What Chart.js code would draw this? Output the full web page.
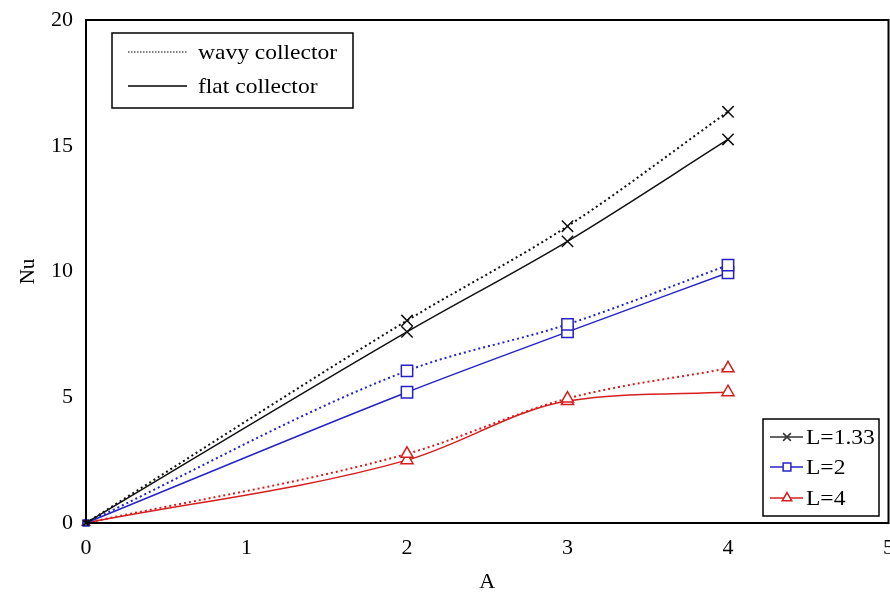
<!DOCTYPE html>
<html>
<head>
<meta charset="utf-8">
<script src="https://cdn.jsdelivr.net/npm/chart.js@4"></script>
<style>
  html, body { margin: 0; padding: 0; background: #fff; overflow: hidden; }
  #wrap { width: 890px; height: 595px; position: relative; overflow: hidden; }
</style>
</head>
<body>
<div id="wrap"><canvas id="myChart" width="898" height="595"></canvas></div>
<script>
// A values along the x axis
const aValues = [0, 2, 3, 4];

// Nu values
const wavyL133 = [0, 8.05, 11.8, 16.35];
const flatL133 = [0, 7.6, 11.2, 15.25];
const wavyL2 = [0, 6.05, 7.9, 10.25];
const flatL2 = [0, 5.2, 7.6, 9.95];
const wavyL4 = [0, 2.75, 4.95, 6.15];
const flatL4 = [0, 2.5, 4.85, 5.2];

const xTicks = [0, 1, 2, 3, 4, 5];
const yTicks = [0, 5, 10, 15, 20];

const black = "#111";
const blue = "rgb(35,35,200)";
const red = "rgb(215,30,30)";
const font = "Liberation Serif";

let toPoints = (vals) => aValues.map((a, i) => ({ x: a, y: vals[i] }));

let sizeFor = (style) => {
    if (style === "crossRot") return 8;
    if (style === "rect") return 8;
    return 7;
};

let makeSet = (label, vals, color, style, dotted) => ({
    label: label,
    data: toPoints(vals),
    borderColor: color,
    backgroundColor: "#fff",
    borderWidth: dotted ? 2 : 1.5,
    borderDash: dotted ? [2, 3] : [],
    pointStyle: style,
    pointRadius: (c) => c.dataIndex === 0 ? 4 : sizeFor(style),
    pointBorderWidth: 1.5,
    pointBorderColor: color,
    pointBackgroundColor: "#fff",
    cubicInterpolationMode: "monotone",
    fill: false
});

// draw text a bit wider, the original figure has stretched lettering
let wideText = (c, text, x, y) => {
    c.save();
    c.translate(x, y);
    c.scale(1.12, 1);
    c.fillText(text, 0, 0);
    c.restore();
};

// two boxed legends like the original figure
const legendBoxes = {
    id: "legendBoxes",
    afterDraw(chart) {
        const c = chart.ctx;
        const h = Chart.helpers;
        c.save();
        c.fillStyle = "#fff";
        c.strokeStyle = "#000";
        c.lineWidth = 1.5;

        // line style legend (top left)
        c.fillRect(112, 33, 241, 75);
        c.strokeRect(112, 33, 241, 75);
        c.font = "21px " + font;
        c.fillStyle = "#000";
        c.textBaseline = "middle";
        c.lineWidth = 1;
        c.setLineDash([1.5, 1.5]);
        c.beginPath(); c.moveTo(128, 52); c.lineTo(187, 52); c.stroke();
        c.setLineDash([]);
        c.lineWidth = 1.5;
        c.beginPath(); c.moveTo(128, 86); c.lineTo(187, 86); c.stroke();
        wideText(c, "wavy collector", 198, 53);
        wideText(c, "flat collector", 198, 87);

        // series legend (bottom right)
        c.fillStyle = "#fff";
        c.strokeStyle = "#000";
        c.fillRect(763, 419, 116, 97);
        c.strokeRect(763, 419, 116, 97);
        const rows = [
            { text: "L=1.33", color: "#333", style: "crossRot", y: 437 },
            { text: "L=2", color: blue, style: "rect", y: 467 },
            { text: "L=4", color: red, style: "triangle", y: 498 }
        ];
        rows.forEach((r) => {
            c.strokeStyle = r.color;
            c.lineWidth = 1.5;
            c.beginPath(); c.moveTo(770, r.y); c.lineTo(803, r.y); c.stroke();
            c.fillStyle = "#fff";
            h.drawPoint(c, { pointStyle: r.style, radius: 5.5, rotation: 0, borderWidth: 1.5 }, 787, r.y);
            c.fillStyle = "#000";
            c.font = "21px " + font;
            wideText(c, r.text, 806, r.y + 1);
        });
        c.restore();
    }
};

// top and right frame lines
const frame = {
    id: "frame",
    afterDatasetsDraw(chart) {
        const a = chart.chartArea;
        const c = chart.ctx;
        c.save();
        c.strokeStyle = "#000";
        c.lineWidth = 2;
        c.strokeRect(a.left, a.top, a.right - a.left, a.bottom - a.top);
        c.restore();
    }
};

const ctx = document.getElementById("myChart");

let chart = new Chart(ctx, {
    type: "line",
    data: {
        datasets: [
            makeSet("L=1.33 wavy", wavyL133, black, "crossRot", true),
            makeSet("L=1.33 flat", flatL133, black, "crossRot", false),
            makeSet("L=2 wavy", wavyL2, blue, "rect", true),
            makeSet("L=2 flat", flatL2, blue, "rect", false),
            makeSet("L=4 wavy", wavyL4, red, "triangle", true),
            makeSet("L=4 flat", flatL4, red, "triangle", false)
        ]
    },
    options: {
        responsive: false,
        animation: false,
        clip: false,
        layout: { padding: { top: 20, right: 0, left: 0, bottom: 0 } },
        plugins: {
            legend: { display: false },
            tooltip: { enabled: false }
        },
        scales: {
            x: {
                type: "linear",
                min: 0,
                max: 5,
                afterBuildTicks: (scale) => { scale.ticks = xTicks.map(v => ({ value: v })); },
                afterFit: (scale) => { scale.height = 72; },
                grid: { display: false, drawTicks: true, tickLength: 9, tickColor: "#000" },
                border: { color: "#000", width: 2 },
                ticks: { color: "#000", font: { family: font, size: 22 }, padding: 3, maxRotation: 0 },
                title: { display: true, text: "A", color: "#000", font: { family: font, size: 22 }, padding: { top: 7, bottom: 0 } }
            },
            y: {
                min: 0,
                max: 20,
                afterBuildTicks: (scale) => { scale.ticks = yTicks.map(v => ({ value: v })); },
                afterFit: (scale) => { scale.width = 86; scale.paddingTop = 0; scale.paddingBottom = 0; },
                grid: { display: false, drawTicks: true, tickLength: 8, tickColor: "#000" },
                border: { color: "#000", width: 2 },
                ticks: { color: "#000", font: { family: font, size: 22 }, padding: 5 },
                title: { display: true, text: "Nu", color: "#000", font: { family: font, size: 21 }, padding: { top: 16, bottom: 0 } }
            }
        }
    },
    plugins: [frame, legendBoxes]
});
</script>
</body>
</html>
